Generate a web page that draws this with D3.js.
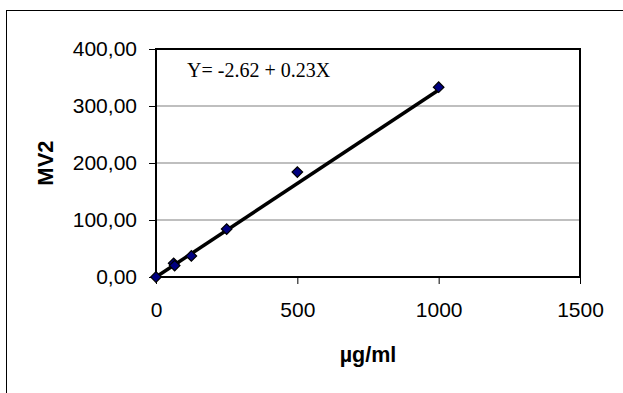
<!DOCTYPE html>
<html><head><meta charset="utf-8">
<script src="https://cdn.jsdelivr.net/npm/d3@7"></script>
<style>html,body{margin:0;padding:0;background:#fff;}svg{display:block;}</style>
</head><body>
<svg id="c" width="623" height="393"></svg>
<script>
const concentrations = [0, 62.5, 66, 125, 250, 500, 1000];
const mv2Values = [0, 24, 20, 37, 84, 184, 333];
const trendX = [0, 1000];
const trendY = [0, 328];
const xTicks = [0, 500, 1000, 1500];
const yTicks = [0, 100, 200, 300, 400];
const equationText = "Y= -2.62 + 0.23X";
const xTitle = "µg/ml";
const yTitle = "MV2";

const svg = d3.select("#c");
const L = 156, R = 580, T = 49, B = 277;
const x = d3.scaleLinear().domain([0, 1500]).range([L, R]);
const y = d3.scaleLinear().domain([0, 400]).range([B, T]);

// outer frame
svg.append("rect").attr("x", 6.5).attr("y", 10.5).attr("width", 640).attr("height", 400)
  .attr("fill", "none").attr("stroke", "#000").attr("stroke-width", 1);

// gridlines
svg.append("g").selectAll("line").data(yTicks.filter(v => v > 0 && v < 400)).join("line")
  .attr("x1", L).attr("x2", R).attr("y1", d => y(d)).attr("y2", d => y(d))
  .attr("stroke", "#808080").attr("stroke-width", 1.2);

// y axis
const yAxis = d3.axisLeft(y).tickValues(yTicks).tickSize(7).tickPadding(12)
  .tickFormat(d => d3.format(".2f")(d).replace(".", ","));
const gy = svg.append("g").attr("transform", `translate(${L},0)`).call(yAxis);
gy.select(".domain").remove();
gy.selectAll("line").attr("stroke", "#000");
gy.selectAll("text").attr("font-family", "Liberation Sans, Arial, sans-serif").attr("font-size", 21).attr("fill", "#000");

// x axis
const xAxis = d3.axisBottom(x).tickValues(xTicks).tickSize(7).tickPadding(18).tickFormat(d3.format("d"));
const gx = svg.append("g").attr("transform", `translate(0,${B})`).call(xAxis);
gx.select(".domain").remove();
gx.selectAll("line").attr("stroke", "#000");
gx.selectAll("text").attr("font-family", "Liberation Sans, Arial, sans-serif").attr("font-size", 21).attr("fill", "#000");

// plot frame
svg.append("rect").attr("x", L).attr("y", T).attr("width", R - L).attr("height", B - T)
  .attr("fill", "none").attr("stroke", "#000").attr("stroke-width", 2);

// trend line
svg.append("line")
  .attr("x1", x(trendX[0])).attr("y1", y(trendY[0]))
  .attr("x2", x(trendX[1])).attr("y2", y(trendY[1]))
  .attr("stroke", "#000").attr("stroke-width", 3.5);

// points
const pts = concentrations.map((c, i) => ({c, v: mv2Values[i]}));
svg.append("g").selectAll("path").data(pts).join("path")
  .attr("d", d3.symbol().type(d3.symbolSquare).size(56))
  .attr("transform", d => `translate(${x(d.c)},${y(d.v)}) rotate(45)`)
  .attr("fill", "#000080").attr("stroke", "#000").attr("stroke-width", 1.2);

// equation
svg.append("text").attr("x", 187).attr("y", 76.5)
  .attr("font-family", "Liberation Serif, Times New Roman, serif").attr("font-size", 20)
  .attr("fill", "#000").text(equationText);

// axis titles
svg.append("text").attr("x", 368).attr("y", 361.5).attr("text-anchor", "middle")
  .attr("font-family", "Liberation Sans, Arial, sans-serif").attr("font-weight", "bold").attr("font-size", 21.5)
  .attr("fill", "#000").text(xTitle);
svg.append("text").attr("transform", "translate(53,163) rotate(-90)").attr("text-anchor", "middle")
  .attr("font-family", "Liberation Sans, Arial, sans-serif").attr("font-weight", "bold").attr("font-size", 22)
  .attr("fill", "#000").text(yTitle);
</script>
</body></html>
